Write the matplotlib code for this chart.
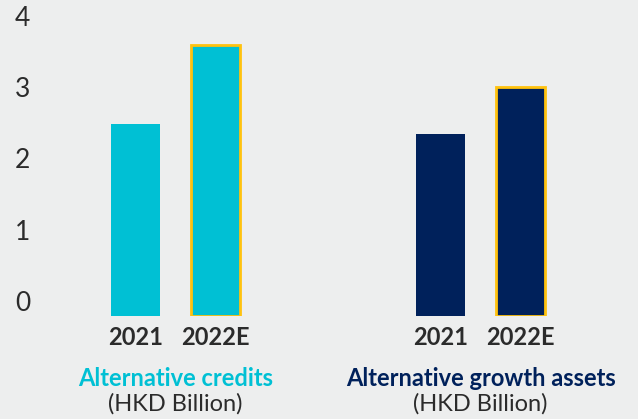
import matplotlib
matplotlib.use("Agg")
import matplotlib.pyplot as plt
from matplotlib.transforms import blended_transform_factory

# data
groups = ["Alternative credits", "Alternative growth assets"]
unit_label = "(HKD Billion)"
years = ["2021", "2022E"]
credits = [2.7, 3.8]
growth = [2.55, 3.22]
yticks = [0, 1, 2, 3, 4]

bg = "#EDEEEE"
cyan = "#00C0D4"
navy = "#00215B"
gold = "#FFC20E"
dark = "#2B2B2B"

plt.rcParams['font.family'] = ['Lato', 'DejaVu Sans']

fig = plt.figure(figsize=(6.38, 4.19), dpi=100, facecolor=bg)
ax = fig.add_axes([50 / 638, (419 - 316) / 419, 588 / 638, 285 / 419])
ax.set_facecolor(bg)

x1 = [0, 1]
x2 = [3.8125, 4.8125]
w = 0.6125
ax.bar(x1[0], credits[0], width=w, color=cyan)
ax.bar(x1[1], credits[1], width=w, color=cyan, edgecolor=gold, linewidth=2)
ax.bar(x2[0], growth[0], width=w, color=navy)
ax.bar(x2[1], growth[1], width=w, color=navy, edgecolor=gold, linewidth=2)

ax.set_xlim(-1.069, 6.281)
ax.set_ylim(0, 4)
ax.set_yticks(yticks)
ax.set_yticklabels([str(t) for t in yticks], fontsize=19, color=dark)
for lab in ax.get_yticklabels():
    lab.set_va('bottom')
ax.tick_params(axis='y', length=0, pad=14)

ax.set_xticks(x1 + x2)
ax.set_xticklabels(years + years, fontsize=17, fontweight='bold', color=dark)
ax.tick_params(axis='x', length=0, pad=7)

for s in ax.spines.values():
    s.set_visible(False)

tr = blended_transform_factory(ax.transData, fig.transFigure)
for xs, name, col in [(x1, groups[0], cyan), (x2, groups[1], navy)]:
    cx = (xs[0] + xs[1]) / 2
    ax.text(cx, (419 - 386) / 419, name, transform=tr, ha='center', va='baseline',
            fontsize=17, fontweight='bold', color=col)
    ax.text(cx, (419 - 411) / 419, unit_label, transform=tr, ha='center', va='baseline',
            fontsize=17, color=dark)

fig.savefig("out.png", dpi=100, facecolor=bg)
